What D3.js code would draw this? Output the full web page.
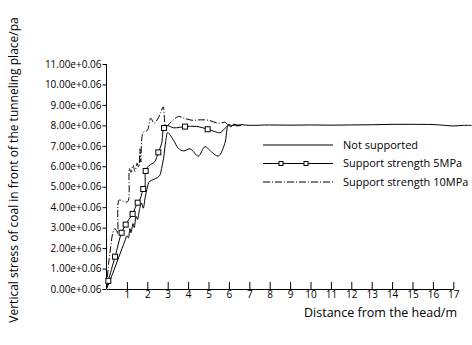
<!DOCTYPE html>
<html>
<head>
<meta charset="utf-8">
<script src="https://cdn.jsdelivr.net/npm/d3@7"></script>
<style>
  body { margin: 0; background: #fff; }
  text { font-family: "Open Sans", sans-serif; fill: #000; }
</style>
</head>
<body>
<script>
// Data (distance in m, stress in units of e+0.06)
var yTicks = [0, 1, 2, 3, 4, 5, 6, 7, 8, 9, 10, 11];
var xTicks = [1, 2, 3, 4, 5, 6, 7, 8, 9, 10, 11, 12, 13, 14, 15, 16, 17];

var noSupD = [0, 0.3, 0.6, 0.9, 1.0, 1.07, 1.15, 1.2, 1.3, 1.36, 1.45, 1.52, 1.62, 1.72, 1.8, 1.9, 2.0, 2.1, 2.3, 2.5, 2.62, 2.7, 2.8, 2.9, 3.0, 3.1, 3.3, 3.52, 3.77, 4.1, 4.5, 4.83, 5.15, 5.48, 5.8, 5.97, 6.1, 6.25, 6.4, 6.55, 7, 8, 9, 10, 11, 12, 13, 14, 15, 16, 16.6, 17, 17.5, 17.9];
var noSupV = [0, 0.75, 1.55, 2.35, 2.6, 2.5, 2.95, 2.75, 3.2, 3.0, 3.55, 3.4, 3.9, 4.2, 3.95, 4.5, 4.95, 5.25, 5.35, 5.45, 5.57, 5.9, 6.4, 7.2, 7.65, 7.55, 7.25, 6.88, 6.75, 6.85, 6.5, 6.96, 6.7, 6.5, 7.12, 8.0, 7.93, 8.06, 7.97, 8.03, 8.0, 8.02, 8.01, 8.02, 8.01, 8.02, 8.03, 8.05, 8.05, 8.04, 8.0, 7.97, 8.0, 8.0];

var s5D = [0, 0.09, 0.42, 0.74, 0.94, 1.1, 1.28, 1.4, 1.53, 1.65, 1.8, 1.88, 1.92, 2.1, 2.35, 2.54, 2.7, 2.82, 3.0, 3.3, 3.85, 4.4, 4.96, 5.3, 5.56, 5.85, 6.0, 6.15, 6.3, 6.45, 6.6];
var s5V = [0, 0.4, 1.58, 2.75, 3.15, 3.4, 3.67, 3.95, 4.22, 4.4, 4.89, 5.0, 5.77, 6.05, 6.2, 6.68, 7.1, 7.87, 7.98, 7.88, 7.94, 7.95, 7.81, 7.7, 7.64, 7.9, 8.05, 7.98, 8.04, 7.98, 8.0];
var s5MarkD = [0.09, 0.42, 0.74, 0.94, 1.28, 1.53, 1.8, 1.92, 2.54, 2.82, 3.85, 4.96];
var s5MarkV = [0.4, 1.58, 2.75, 3.15, 3.67, 4.22, 4.89, 5.77, 6.68, 7.87, 7.94, 7.81];

var s10D = [0, 0.1, 0.2, 0.3, 0.4, 0.5, 0.55, 0.56, 0.62, 0.8, 1.0, 1.08, 1.12, 1.2, 1.3, 1.4, 1.5, 1.58, 1.64, 1.68, 1.75, 1.84, 2.0, 2.17, 2.33, 2.5, 2.65, 2.78, 2.9, 3.0, 3.2, 3.52, 3.8, 4.2, 4.6, 5.0, 5.5, 5.8, 6.0, 6.3, 6.6];
var s10V = [0, 1.2, 2.0, 2.7, 2.95, 2.85, 2.7, 4.1, 4.35, 4.3, 4.25, 4.35, 5.9, 5.7, 6.05, 5.75, 6.15, 5.95, 6.85, 6.2, 7.5, 7.7, 7.75, 8.35, 8.1, 8.3, 8.6, 8.9, 7.95, 8.0, 8.2, 8.43, 8.35, 8.25, 8.27, 8.25, 8.1, 8.15, 8.0, 8.02, 8.0];

var legendLabels = ["Not supported", "Support strength 5MPa", "Support strength 10MPa"];

// Width and height of chart
var width = 472;
var height = 345;

var x = d3.scaleLinear().domain([0, 17]).range([106.5, 453.3]);
var y = d3.scaleLinear().domain([0, 11]).range([289, 64]);

var svg = d3.select("body")
  .append("svg")
  .attr("width", width)
  .attr("height", height);

// clip so the long curve stops at the right edge
svg.append("defs").append("clipPath")
  .attr("id", "clip")
  .append("rect")
  .attr("x", 0).attr("y", 0)
  .attr("width", width).attr("height", height);

// Y axis
var yAxis = d3.axisLeft(y)
  .tickValues(yTicks)
  .tickSize(4)
  .tickFormat(function(d) { return d3.format(".2f")(d) + "e+0.06"; });

var gy = svg.append("g")
  .attr("transform", "translate(" + x(0) + ",0)")
  .call(yAxis);
gy.select(".domain").attr("d", "M0," + y(0) + "V" + y(11));
gy.selectAll("text").style("font-size", "10px").attr("x", -5);

// X axis, ticks point up
var xAxis = d3.axisBottom(x)
  .tickValues(xTicks)
  .tickSizeInner(-7)
  .tickSizeOuter(0)
  .tickPadding(2);

var gx = svg.append("g")
  .attr("transform", "translate(0," + y(0) + ")")
  .call(xAxis);
gx.selectAll("text").style("font-size", "10px");

svg.selectAll(".domain, .tick line").attr("stroke", "#000").attr("stroke-width", 1);

// Axis titles
svg.append("text")
  .attr("x", 457)
  .attr("y", 317)
  .attr("text-anchor", "end")
  .style("font-size", "12.5px")
  .text("Distance from the head/m");

svg.append("text")
  .attr("transform", "translate(18,170) rotate(-90)")
  .attr("text-anchor", "middle")
  .style("font-size", "12px")
  .text("Vertical stress of coal in front of the tunneling place/pa");

// Lines
var line = d3.line()
  .x(function(d) { return x(d[0]); })
  .y(function(d) { return y(d[1]); })
  .curve(d3.curveCatmullRom.alpha(0.5));

function zip(a, b) { return a.map(function(v, i) { return [v, b[i]]; }); }

var plot = svg.append("g").attr("clip-path", "url(#clip)");

plot.append("path")
  .datum(zip(noSupD, noSupV))
  .attr("d", line)
  .attr("fill", "none")
  .attr("stroke", "#000")
  .attr("stroke-width", 1);

plot.append("path")
  .datum(zip(s5D, s5V))
  .attr("d", line)
  .attr("fill", "none")
  .attr("stroke", "#000")
  .attr("stroke-width", 1);

plot.append("path")
  .datum(zip(s10D, s10V))
  .attr("d", line)
  .attr("fill", "none")
  .attr("stroke", "#000")
  .attr("stroke-width", 1)
  .attr("stroke-dasharray", "7,2,1,2");

// square markers on 5MPa curve
plot.selectAll("rect.mark")
  .data(zip(s5MarkD, s5MarkV))
  .enter()
  .append("rect")
  .attr("class", "mark")
  .attr("x", function(d) { return x(d[0]) - 2.5; })
  .attr("y", function(d) { return y(d[1]) - 2.5; })
  .attr("width", 5)
  .attr("height", 5)
  .attr("fill", "#fff")
  .attr("stroke", "#000")
  .attr("stroke-width", 1);

// Legend
var legend = svg.append("g").attr("transform", "translate(263,145)");

var rows = legend.selectAll("g")
  .data(legendLabels)
  .enter()
  .append("g")
  .attr("transform", function(d, i) { return "translate(0," + (i * 18.5) + ")"; });

rows.append("line")
  .attr("x1", 0).attr("x2", 70)
  .attr("stroke", "#000")
  .attr("stroke-width", 1)
  .attr("stroke-dasharray", function(d, i) { return i == 2 ? "7,2,1,2" : null; });

rows.append("text")
  .attr("x", 80)
  .attr("dy", "0.35em")
  .style("font-size", "11px")
  .text(function(d) { return d; });

rows.filter(function(d, i) { return i == 1; })
  .selectAll("rect")
  .data([18, 43])
  .enter()
  .append("rect")
  .attr("x", function(d) { return d - 2; })
  .attr("y", -2)
  .attr("width", 4)
  .attr("height", 4)
  .attr("fill", "#fff")
  .attr("stroke", "#000");
</script>
</body>
</html>
